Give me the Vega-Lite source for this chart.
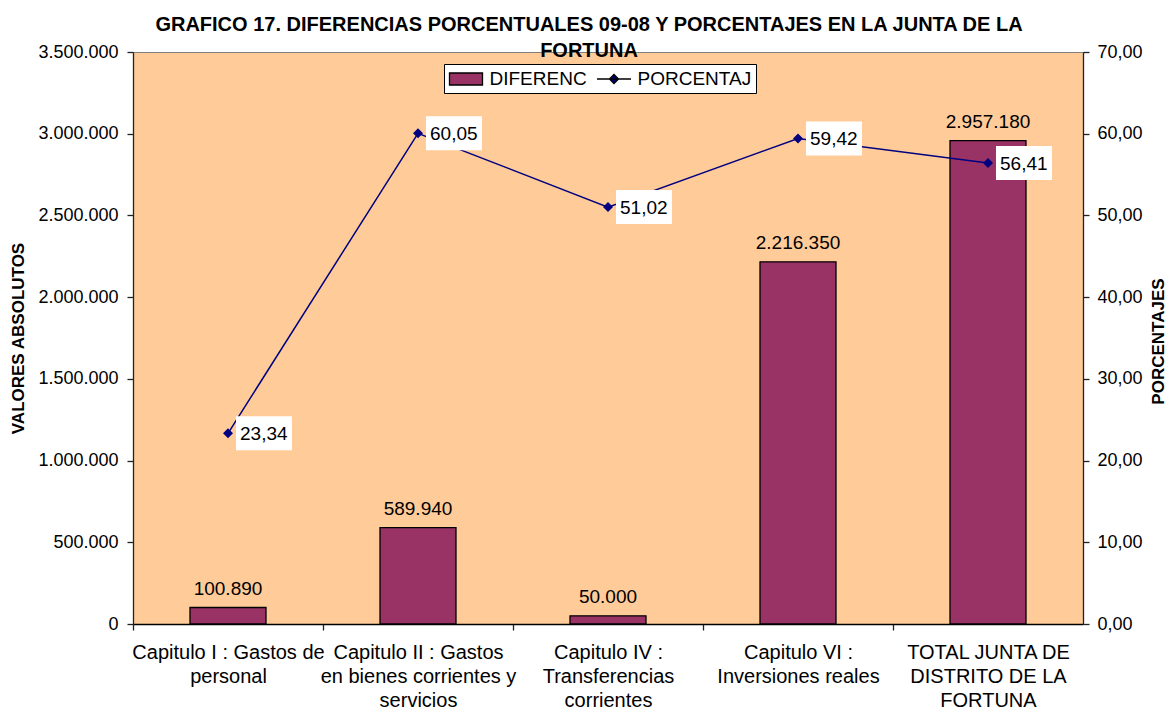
{
  "$schema": "https://vega.github.io/schema/vega-lite/v6.json",
  "autosize": {"type": "none"},
  "padding": {"left": 133, "top": 52, "right": 83, "bottom": 85},
  "width": 950,
  "height": 572,
  "background": "white",
  "title": {
    "text": ["GRAFICO 17. DIFERENCIAS PORCENTUALES 09-08 Y PORCENTAJES EN LA JUNTA DE LA", "FORTUNA"],
    "fontSize": 20,
    "fontWeight": "bold",
    "font": "Liberation Sans",
    "color": "black",
    "lineHeight": 25.7,
    "anchor": "middle",
    "frame": "group",
    "dx": -19,
    "dy": 18,
    "offset": 0
  },
  "data": {
    "values": [
      {"cat": "Capitulo I : Gastos de personal", "dif": 100890, "pct": 23.34},
      {"cat": "Capitulo II : Gastos en bienes corrientes y servicios", "dif": 589940, "pct": 60.05},
      {"cat": "Capitulo IV : Transferencias corrientes", "dif": 50000, "pct": 51.02},
      {"cat": "Capitulo VI : Inversiones reales", "dif": 2216350, "pct": 59.42},
      {"cat": "TOTAL JUNTA DE DISTRITO DE LA FORTUNA", "dif": 2957180, "pct": 56.41}
    ]
  },
  "encoding": {
    "x": {
      "field": "cat",
      "type": "nominal",
      "sort": null,
      "scale": {"paddingInner": 0, "paddingOuter": 0},
      "axis": {
        "title": null,
        "labelAngle": 0,
        "labelFontSize": 20,
        "labelFont": "Liberation Sans",
        "labelColor": "black",
        "labelLimit": 0,
        "labelLineHeight": 24,
        "labelPadding": 12,
        "tickOffset": -95,
        "labelOffset": 95,
        "tickSize": 6,
        "tickColor": "#222",
        "domainColor": "#000",
        "labelExpr": "datum.value == 'Capitulo I : Gastos de personal' ? ['Capitulo I : Gastos de', 'personal'] : datum.value == 'Capitulo II : Gastos en bienes corrientes y servicios' ? ['Capitulo II : Gastos', 'en bienes corrientes y', 'servicios'] : datum.value == 'Capitulo IV : Transferencias corrientes' ? ['Capitulo IV :', 'Transferencias', 'corrientes'] : datum.value == 'Capitulo VI : Inversiones reales' ? ['Capitulo VI :', 'Inversiones reales'] : ['TOTAL JUNTA DE', 'DISTRITO DE LA', 'FORTUNA']"
      }
    }
  },
  "layer": [
    {
      "encoding": {
        "y": {
          "field": "dif",
          "type": "quantitative",
          "scale": {"domain": [0, 3500000], "nice": false},
          "axis": {
            "title": "VALORES ABSOLUTOS",
            "titleFontSize": 17,
            "titleFont": "Liberation Sans",
            "titleFontWeight": "bold",
            "titleColor": "black",
            "titlePadding": 10,
            "values": [0, 500000, 1000000, 1500000, 2000000, 2500000, 3000000, 3500000],
            "format": ",d",
            "grid": false,
            "labelFontSize": 18,
            "labelFont": "Liberation Sans",
            "labelColor": "black",
            "labelPadding": 9,
            "tickSize": 6,
            "tickColor": "#222",
            "domainColor": "#222"
          }
        }
      },
      "layer": [
        {
          "mark": {"type": "bar", "width": {"band": 0.4}, "stroke": "black", "strokeWidth": 1.3},
          "encoding": {
            "color": {
              "datum": "DIFERENC",
              "scale": {"domain": ["DIFERENC", "PORCENTAJ"], "range": ["#993366", "#000080"]},
              "legend": {
                "title": null,
                "orient": "none",
                "legendX": 311,
                "legendY": 12,
                "direction": "horizontal",
                "fillColor": "white",
                "strokeColor": "black",
                "padding": 4,
                "labelFontSize": 19,
                "labelFont": "Liberation Sans",
                "labelColor": "black",
                "labelOffset": 12.5,
                "columnPadding": 7,
                "symbolOffset": 7,
                "symbolSize": 400,
                "symbolStrokeWidth": 1.3,
                "encode": {
                  "symbols": {
                    "update": {
                      "stroke": {"signal": "datum.value == 'DIFERENC' ? 'black' : '#000080'"},
                      "fillOpacity": {"value": 1},
                      "strokeOpacity": {"value": 1},
                      "opacity": {"value": 1},
                      "size": {"value": 400}
                    }
                  }
                }
              }
            }
          }
        },
        {
          "mark": {"type": "text", "baseline": "alphabetic", "align": "center", "dy": -13, "fontSize": 19, "font": "Liberation Sans", "color": "black"},
          "encoding": {
            "text": {"field": "dif", "type": "quantitative", "format": ",d"}
          }
        }
      ]
    },
    {
      "encoding": {
        "y": {
          "field": "pct",
          "type": "quantitative",
          "scale": {"domain": [0, 70], "nice": false},
          "axis": {
            "orient": "right",
            "title": "PORCENTAJES",
            "titleAngle": 270,
            "titleBaseline": "alphabetic",
            "titleAlign": "center",
            "titleX": 80,
            "titleY": 289,
            "titleFontSize": 17,
            "titleFont": "Liberation Sans",
            "titleFontWeight": "bold",
            "titleColor": "black",
            "values": [0, 10, 20, 30, 40, 50, 60, 70],
            "format": ".2f",
            "grid": false,
            "labelFontSize": 18,
            "labelFont": "Liberation Sans",
            "labelColor": "black",
            "labelPadding": 8,
            "tickSize": 6,
            "tickColor": "#222",
            "domainColor": "#222"
          }
        }
      },
      "layer": [
        {
          "mark": {"type": "line", "color": "#000080", "strokeWidth": 1.5}
        },
        {
          "mark": {"type": "point", "shape": "diamond", "filled": true, "size": 100, "color": "#000080", "opacity": 1}
        },
        {
          "mark": {"type": "point", "filled": true, "opacity": 0},
          "encoding": {
            "color": {"datum": "PORCENTAJ"},
            "shape": {
              "datum": "PORCENTAJ",
              "scale": {"domain": ["DIFERENC", "PORCENTAJ"], "range": ["M-1.65,-0.6L1.65,-0.6L1.65,0.6L-1.65,0.6Z", "M-1.7,0L1.7,0M-0.45,0L0,-0.45L0.45,0L0,0.45Z"]},
              "legend": {
                "title": null,
                "orient": "none",
                "legendX": 311,
                "legendY": 12,
                "direction": "horizontal",
                "fillColor": "white",
                "strokeColor": "black",
                "padding": 4,
                "labelFontSize": 19,
                "labelFont": "Liberation Sans",
                "labelColor": "black",
                "labelOffset": 12.5,
                "columnPadding": 7,
                "symbolOffset": 7,
                "symbolSize": 400,
                "symbolStrokeWidth": 1.3,
                "encode": {
                  "symbols": {
                    "update": {
                      "stroke": {"signal": "datum.value == 'DIFERENC' ? 'black' : '#000080'"},
                      "fillOpacity": {"value": 1},
                      "strokeOpacity": {"value": 1},
                      "opacity": {"value": 1},
                      "size": {"value": 400}
                    }
                  }
                }
              }
            }
          }
        },
        {
          "mark": {"type": "point", "shape": "M0.47,-1L3.76,-1L3.76,1L0.47,1Z", "filled": true, "size": 1156, "color": "white", "opacity": 1, "strokeWidth": 0}
        },
        {
          "mark": {"type": "text", "align": "left", "baseline": "middle", "dx": 12, "dy": 1, "fontSize": 19, "font": "Liberation Sans", "color": "black"},
          "encoding": {
            "text": {"field": "pct", "type": "quantitative", "format": ".2f"}
          }
        }
      ]
    }
  ],
  "resolve": {"scale": {"y": "independent"}},
  "config": {
    "locale": {"number": {"decimal": ",", "thousands": ".", "grouping": [3], "currency": ["", " €"]}},
    "view": {"fill": "#FFCC99", "stroke": "#808080"},
    "axis": {"domainWidth": 1.3, "tickWidth": 1.3}
  }
}
